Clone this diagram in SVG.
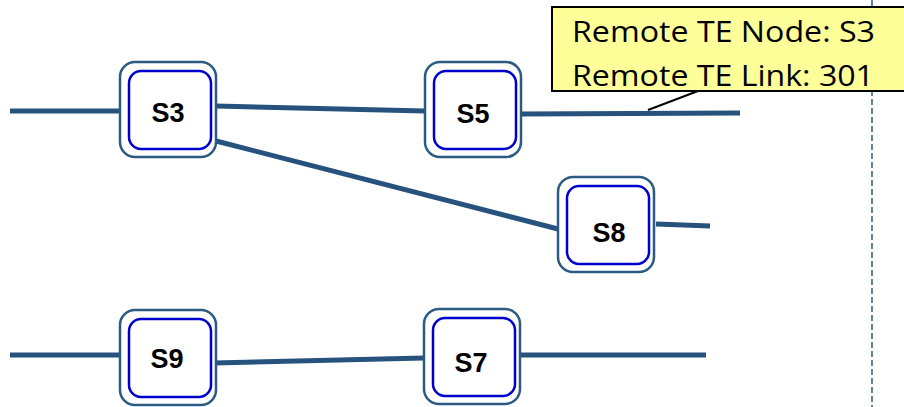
<svg xmlns="http://www.w3.org/2000/svg" width="904" height="407" viewBox="0 0 904 407">
  <style>
    .link { stroke: #26527d; stroke-width: 5; fill: none; }
    .outer { fill: #ffffff; stroke: #2b5a82; stroke-width: 2.5; }
    .inner { fill: #ffffff; stroke: #0000cc; stroke-width: 2.5; }
    .label { font-family: "Liberation Sans", Arial, sans-serif; font-weight: bold; font-size: 27px; fill: #000; text-anchor: middle; }
    .note { font-family: "Open Sans", "Liberation Sans", sans-serif; font-size: 29px; fill: #000; }
    .divider { stroke: #2b5a82; stroke-width: 1.5; stroke-dasharray: 6 3; }
  </style>
  <defs>
    <g id="switch">
      <rect class="outer" x="0" y="0" width="96" height="95" rx="15"/>
      <rect class="inner" x="9" y="9" width="82" height="78" rx="12"/>
    </g>
  </defs>
  <rect width="904" height="407" fill="#ffffff"/>

  <!-- domain divider -->
  <line class="divider" x1="872" y1="0" x2="872" y2="407"/>

  <!-- links -->
  <g id="connectors">
    <line class="link" x1="10" y1="111" x2="120" y2="111"/>
    <line class="link" x1="216" y1="106" x2="425" y2="111"/>
    <line class="link" x1="521" y1="114" x2="740" y2="113"/>
    <line class="link" x1="216" y1="141" x2="558" y2="229"/>
    <line class="link" x1="656" y1="224" x2="710" y2="226"/>
    <line class="link" x1="10" y1="355" x2="120" y2="355"/>
    <line class="link" x1="214" y1="363" x2="424" y2="358"/>
    <line class="link" x1="520" y1="355" x2="706" y2="355"/>
    <line x1="698" y1="91" x2="648" y2="110" stroke="#000" stroke-width="2"/>
  </g>

  <!-- switches -->
  <g id="S3">
    <use href="#switch" x="120" y="62"/>
    <text class="label" x="168" y="122">S3</text>
  </g>
  <g id="S5">
    <use href="#switch" x="425" y="62"/>
    <text class="label" x="473" y="123">S5</text>
  </g>
  <g id="S8">
    <use href="#switch" x="558" y="177"/>
    <text class="label" x="609" y="242">S8</text>
  </g>
  <g id="S9">
    <use href="#switch" x="120" y="310"/>
    <text class="label" x="167" y="368">S9</text>
  </g>
  <g id="S7">
    <use href="#switch" x="424" y="309"/>
    <text class="label" x="471" y="372">S7</text>
  </g>

  <!-- callout -->
  <g id="callout">
    <rect x="552" y="7" width="360" height="84" fill="#ffff99" stroke="#000" stroke-width="2"/>
    <text class="note" x="572" y="42" textLength="303" lengthAdjust="spacingAndGlyphs">Remote TE Node: S3</text>
    <text class="note" x="572" y="86" textLength="302" lengthAdjust="spacingAndGlyphs">Remote TE Link: 301</text>
  </g>
</svg>
